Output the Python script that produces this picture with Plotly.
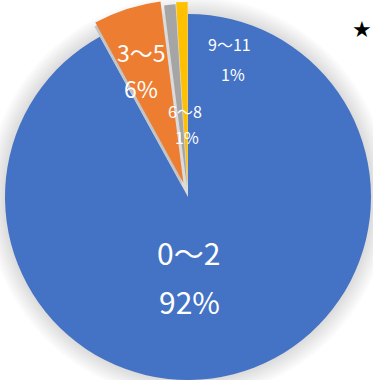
import plotly.graph_objects as go

# ---- data ----
categories = ["0～2", "3～5", "6～8", "9～11"]
values = [92, 6, 1, 1]
colors = ["#4472C4", "#ED7D31", "#A5A5A5", "#FFC000"]

W, H = 373, 380
CX, CY, R = 188, 197, 183          # pie centre / radius in px
# exploded offsets per slice (px, dx, dy)
offsets = [(0, 0), (-4.6, -14.3), (-1.0, -10.0), (-0.4, -12.0)]

total = sum(values)
pcts = [f"{round(v / total * 100)}%" for v in values]


def domain(cx, cy, r):
    x0, x1 = (cx - r) / W, (cx + r) / W
    y0, y1 = (H - cy - r) / H, (H - cy + r) / H
    return dict(x=[max(0, x0), min(1, x1)], y=[max(0, y0), min(1, y1)])


def slice_trace(idx, cx, cy, r, color_override=None):
    cols = ["rgba(0,0,0,0)"] * len(values)
    cols[idx] = color_override or colors[idx]
    return go.Pie(
        labels=categories, values=values, sort=False, direction="clockwise",
        rotation=0, marker=dict(colors=cols, line=dict(width=0)),
        textinfo="none", hoverinfo="skip", showlegend=False,
        domain=domain(cx, cy, r),
    )


fig = go.Figure()
# blue slice
fig.add_trace(slice_trace(0, CX, CY, R))
# shadow of exploded orange slice
fig.add_trace(slice_trace(1, CX + offsets[1][0] - 1.5, CY + offsets[1][1] + 3.5, R - 0.5,
                          color_override="#C4C4C4"))
# gray, gold, orange
for i in (2, 3, 1):
    cx, cy = CX + offsets[i][0], CY + offsets[i][1]
    r = min(R, H - cy)  # keep inside the canvas
    fig.add_trace(slice_trace(i, cx, cy, r))

# soft glow around the pie
shapes = []
for k in range(12):
    rr = R + 1 + 1.6 * k
    shapes.append(dict(
        type="circle", xref="paper", yref="paper", layer="below",
        x0=(CX - rr) / W, x1=(CX + rr) / W,
        y0=(H - CY - rr) / H, y1=(H - CY + rr) / H,
        fillcolor="rgba(0,0,0,0.010)", line=dict(width=0),
    ))

# data labels (px positions)
label_pos = [
    ((188, 252), (189, 301), 30),
    ((141, 51.5), (141, 88), 23),
    ((185, 111), (187, 137), 16),
    ((229, 44), (233, 73.5), 16),
]
font_family = "Noto Sans CJK JP, Noto Sans, sans-serif"
annotations = []
for (p1, p2, size), cat, pct in zip(label_pos, categories, pcts):
    for (px, py), txt in ((p1, cat), (p2, pct)):
        annotations.append(dict(
            x=px / W, y=1 - py / H, xref="paper", yref="paper",
            text=txt, showarrow=False, xanchor="center", yanchor="middle",
            font=dict(family=font_family, size=size, color="white"),
        ))
annotations.append(dict(
    x=362 / W, y=1 - 29 / H, xref="paper", yref="paper", text="★",
    showarrow=False, xanchor="center", yanchor="middle",
    font=dict(family="DejaVu Sans", size=22, color="black"),
))

fig.update_layout(
    width=W, height=H, margin=dict(l=0, r=0, t=0, b=0),
    paper_bgcolor="white", plot_bgcolor="white",
    shapes=shapes, annotations=annotations, showlegend=False,
)
fig.write_html("out.html")
